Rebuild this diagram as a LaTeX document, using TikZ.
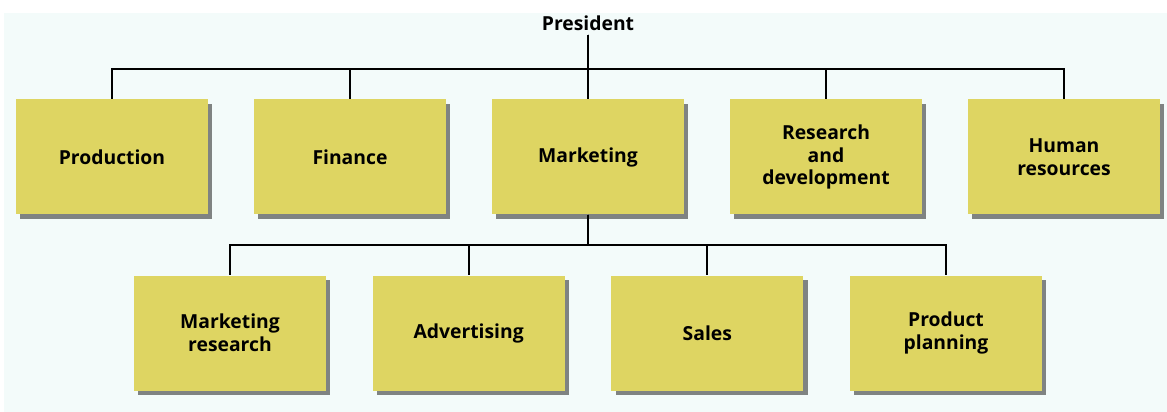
\documentclass[tikz,border=0pt]{standalone}
\usepackage{fontspec}
\setmainfont{Open Sans}
\usetikzlibrary{shadows}

\definecolor{boxyellow}{RGB}{222,213,98}
\definecolor{paper}{RGB}{243,251,250}

\begin{document}
\begin{tikzpicture}[font=\bfseries\fontsize{16.5}{19.6}\selectfont,
		unit/.style={rectangle,fill=boxyellow,minimum width=5.76cm,minimum height=3.45cm,align=center,
			drop shadow={shadow xshift=0.13cm,shadow yshift=-0.13cm,fill=black!80,opacity=0.6}},
		edge from parent/.style={draw,line width=1.5pt},
		edge from parent path={(\tikzparentnode.south) |- ([yshift=0.9cm]\tikzchildnode.north) -- (\tikzchildnode.north)},
		level 1/.style={level distance=4.02cm,sibling distance=7.14cm},
		level 2/.style={level distance=5.28cm,sibling distance=7.16cm,xshift=-0.1cm}]
		\useasboundingbox (-17.64,0.69) rectangle (17.37,-11.67);
		\fill[paper] (-17.52,0.30) rectangle (17.37,-11.67);
		\node (pres) {President}
			child {node[unit] (prod) {Production}}
			child {node[unit] (fin) {Finance}}
			child {node[unit] (mkt) {Marketing}
				child {node[unit] (mres) {Marketing\\research}}
				child {node[unit] (adv) {Advertising}}
				child {node[unit] (sales) {Sales}}
				child {node[unit] (plan) {Product\\planning}}
			}
			child {node[unit] (rnd) {Research\\and\\development}}
			child {node[unit] (hr) {Human\\resources}};
	\end{tikzpicture}
\end{document}
